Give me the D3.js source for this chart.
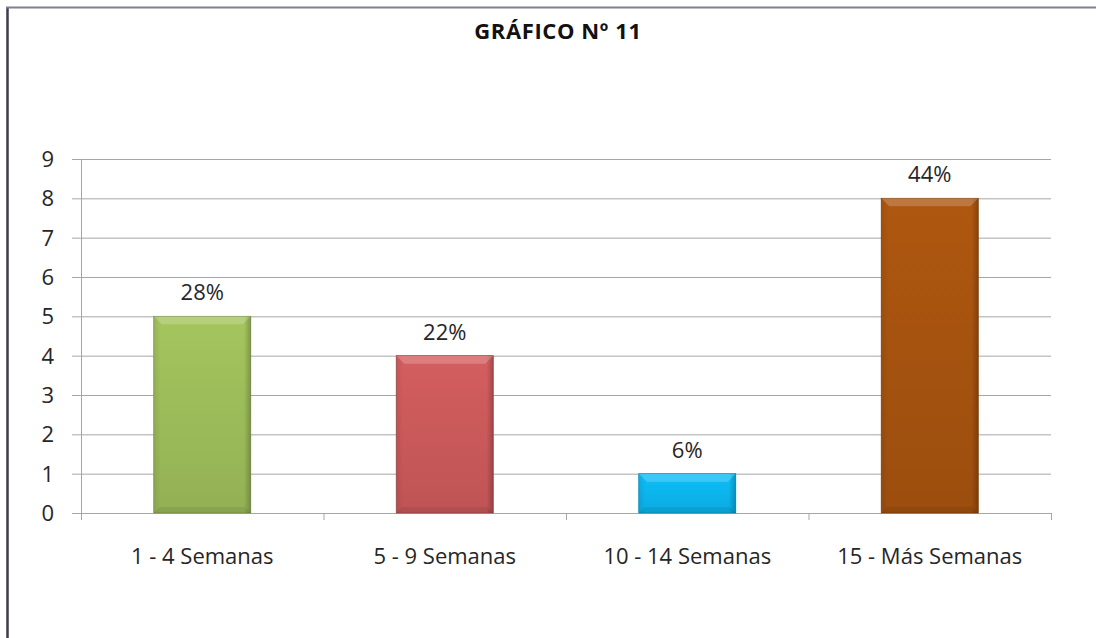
<!DOCTYPE html>
<html lang="es">
<head>
<meta charset="UTF-8">
<title>Gráfico Nº 11</title>
<script src="https://d3js.org/d3.v7.min.js"></script>
<style>
    body { margin: 0; background: #ffffff; overflow: hidden; }
    svg { display: block; }
    text { font-family: 'Open Sans', 'Noto Sans', sans-serif; fill: #262626; }
</style>
</head>
<body>
<svg id="chart" width="1096" height="638"></svg>
<script>
// data
const categories = ["1 - 4 Semanas", "5 - 9 Semanas", "10 - 14 Semanas", "15 - Más Semanas"];
const counts = [5, 4, 1, 8];
const percents = ["28%", "22%", "6%", "44%"];
const yTicks = [0, 1, 2, 3, 4, 5, 6, 7, 8, 9];
const barColors = ["#9bbb59", "#c9595a", "#0cb4ec", "#a5520f"];

const svg = d3.select("#chart");
const width = 1096, height = 638;
const margin = { top: 159, right: 45, bottom: 125, left: 81 };
const plotW = width - margin.left - margin.right;
const plotH = height - margin.top - margin.bottom;

// outer frame (only left and top edges visible in the original)
svg.append("line").attr("x1", 7.5).attr("y1", 7).attr("x2", 7.5).attr("y2", height)
    .attr("stroke", "#3c3c4c").attr("stroke-width", 2.5);
svg.append("line").attr("x1", 6).attr("y1", 7.5).attr("x2", width).attr("y2", 7.5)
    .attr("stroke", "#80808f").attr("stroke-width", 2);

svg.append("text")
    .attr("x", 558).attr("y", 39)
    .attr("text-anchor", "middle")
    .style("font-size", "22px").style("font-weight", "bold")
    .style("letter-spacing", "0.6px")
    .style("fill", "#111")
    .text("GRÁFICO Nº 11");

const x = d3.scaleBand().domain(categories).range([0, plotW]).paddingInner(0.6).paddingOuter(0.3);
const y = d3.scaleLinear().domain([0, 9]).range([plotH, 0]);

const g = svg.append("g").attr("transform", `translate(${margin.left},${margin.top})`);

// gradients for the bevelled bars
const defs = svg.append("defs");
barColors.forEach((c, i) => {
    const base = d3.color(c);
    const grad = defs.append("linearGradient").attr("id", "grad" + i)
        .attr("x1", 0).attr("y1", 0).attr("x2", 0).attr("y2", 1);
    grad.append("stop").attr("offset", "0%").attr("stop-color", base.brighter(0.15));
    grad.append("stop").attr("offset", "100%").attr("stop-color", base.darker(0.15));
    const side = defs.append("linearGradient").attr("id", "side" + i)
        .attr("x1", 0).attr("y1", 0).attr("x2", 1).attr("y2", 0);
    side.append("stop").attr("offset", "0%").attr("stop-color", "#000").attr("stop-opacity", 0.08);
    side.append("stop").attr("offset", "7%").attr("stop-color", "#000").attr("stop-opacity", 0);
    side.append("stop").attr("offset", "93%").attr("stop-color", "#000").attr("stop-opacity", 0);
    side.append("stop").attr("offset", "100%").attr("stop-color", "#000").attr("stop-opacity", 0.22);
});

// gridlines
g.append("g")
    .selectAll("line")
    .data(yTicks)
    .join("line")
    .attr("x1", -9).attr("x2", plotW)
    .attr("y1", d => y(d) + 0.5).attr("y2", d => y(d) + 0.5)
    .attr("stroke", "#a6a6a6").attr("stroke-width", 1);

// y axis line
g.append("line").attr("x1", 0.5).attr("x2", 0.5).attr("y1", 0).attr("y2", plotH + 7)
    .attr("stroke", "#a6a6a6");

// y tick labels
g.append("g")
    .selectAll("text")
    .data(yTicks)
    .join("text")
    .attr("x", -27).attr("y", d => y(d))
    .attr("dy", "0.36em")
    .attr("text-anchor", "end")
    .style("font-size", "22px")
    .text(d => d);

// x ticks between categories
const xTicks = d3.range(categories.length + 1).map(i => i * plotW / categories.length);
g.append("g")
    .selectAll("line")
    .data(xTicks)
    .join("line")
    .attr("x1", d => d + 0.5).attr("x2", d => d + 0.5)
    .attr("y1", plotH).attr("y2", plotH + 7)
    .attr("stroke", "#a6a6a6");

// bars
const bars = g.append("g")
    .selectAll("g")
    .data(categories)
    .join("g");

bars.append("rect")
    .attr("x", d => x(d)).attr("y", (d, i) => y(counts[i]))
    .attr("width", x.bandwidth())
    .attr("height", (d, i) => plotH - y(counts[i]))
    .attr("fill", (d, i) => `url(#grad${i})`)
    .attr("stroke", (d, i) => d3.color(barColors[i]).darker(0.6))
    .attr("stroke-width", 0.8);

bars.append("rect")
    .attr("x", d => x(d)).attr("y", (d, i) => y(counts[i]))
    .attr("width", x.bandwidth())
    .attr("height", (d, i) => plotH - y(counts[i]))
    .attr("fill", (d, i) => `url(#side${i})`);

// top bevel
bars.append("path")
    .attr("d", (d, i) => {
        const x0 = x(d), x1 = x(d) + x.bandwidth(), t = y(counts[i]), b = 8;
        return `M${x0},${t}L${x1},${t}L${x1 - b},${t + b}L${x0 + b},${t + b}Z`;
    })
    .attr("fill", "#fff").attr("fill-opacity", 0.2);

// bottom bevel shade
bars.append("path")
    .attr("d", (d, i) => {
        const x0 = x(d), x1 = x(d) + x.bandwidth(), b = 6;
        return `M${x0},${plotH}L${x1},${plotH}L${x1 - b},${plotH - b}L${x0 + b},${plotH - b}Z`;
    })
    .attr("fill", "#000").attr("fill-opacity", 0.07);

// value labels
bars.append("text")
    .attr("x", d => x(d) + x.bandwidth() / 2)
    .attr("y", (d, i) => y(counts[i]) - 16)
    .attr("text-anchor", "middle")
    .style("font-size", "22px")
    .text((d, i) => percents[i]);

// category labels
g.append("g")
    .selectAll("text")
    .data(categories)
    .join("text")
    .attr("x", d => x(d) + x.bandwidth() / 2)
    .attr("y", plotH + 51)
    .attr("text-anchor", "middle")
    .style("font-size", "22px")
    .text(d => d);
</script>
</body>
</html>
